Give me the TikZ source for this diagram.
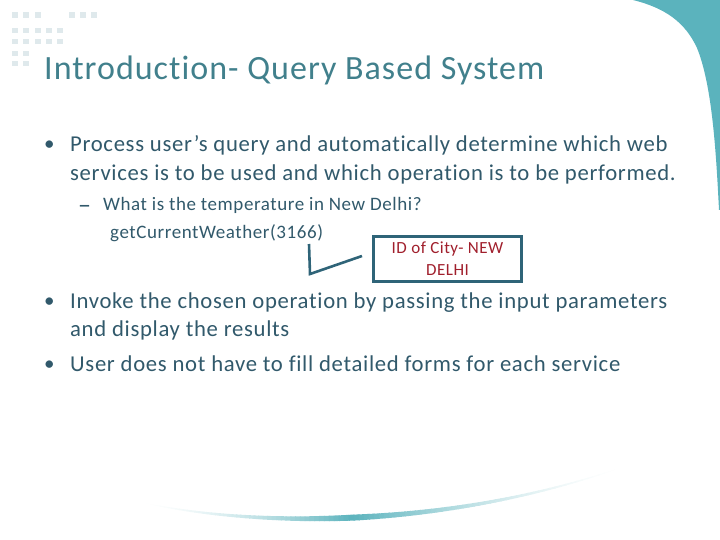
\documentclass[tikz,border=0pt]{standalone}
\usepackage{xcolor}
\usepackage{fontspec}
\setmainfont[LetterSpace=3,Ligatures={NoCommon,NoDiscretionary,NoContextual}]{Carlito}
\usepackage{tikz}
\definecolor{tealcorner}{HTML}{5BB3BD}
\definecolor{titleblue}{HTML}{41808C}
\definecolor{bodyblue}{HTML}{31596B}
\definecolor{paledot}{HTML}{DFE9EC}
\definecolor{boxblue}{HTML}{2F6478}
\definecolor{boxred}{HTML}{A01F2C}
\tikzset{
	titletext/.style={anchor=base west,inner sep=0pt,text=titleblue,font=\fontsize{34}{34}\selectfont},
	bodytext/.style={anchor=base west,inner sep=0pt,text=bodyblue,font=\fontsize{22.7}{23}\selectfont},
	bullettext/.style={anchor=base west,inner sep=0pt,text=bodyblue,font=\fontsize{21}{21}\selectfont},
	subtext/.style={anchor=base west,inner sep=0pt,text=bodyblue,font=\fontsize{19}{19}\selectfont},
	boxtext/.style={draw=boxblue,line width=3pt,text=boxred,align=center,minimum width=148pt,minimum height=45pt,inner sep=0pt,font=\fontsize{17}{22}\selectfont},
}
\begin{document}
\begin{tikzpicture}[x=1pt,y=-1pt]
	\useasboundingbox (0,0) rectangle (720,540);

	\fill[tealcorner] (633,0) .. controls (665,8) and (685,22) .. (697,48) .. controls (712,85) and (716,150) .. (719,210) -- (720,210) -- (720,0) -- cycle;

	% swoosh along the bottom
	\foreach \t in {0,0.01,...,0.99} {
		\pgfmathsetmacro{\ta}{\t}
		\pgfmathsetmacro{\tb}{\t+0.012}
		\pgfmathsetmacro{\xa}{(1-\ta)^3*140+3*(1-\ta)^2*\ta*250+3*(1-\ta)*\ta^2*440+\ta^3*620}
		\pgfmathsetmacro{\ya}{(1-\ta)^3*502+3*(1-\ta)^2*\ta*527+3*(1-\ta)*\ta^2*530+\ta^3*468}
		\pgfmathsetmacro{\xb}{(1-\tb)^3*140+3*(1-\tb)^2*\tb*250+3*(1-\tb)*\tb^2*440+\tb^3*620}
		\pgfmathsetmacro{\yb}{(1-\tb)^3*502+3*(1-\tb)^2*\tb*527+3*(1-\tb)*\tb^2*530+\tb^3*468}
		\pgfmathsetmacro{\mix}{\xa<350 ? 100*((\xa-140)/210)^1.6 : 100*((620-\xa)/270)^1.6}
		\pgfmathsetmacro{\wd}{\xa<350 ? 0.6+5.4*(\xa-140)/210 : 0.6+5.4*(620-\xa)/270}
		\draw[tealcorner!\mix!white,line width=\wd pt] (\xa,\ya) -- (\xb,\yb);
	}

	\foreach \x in {12,23,35,69,80,91} \fill[paledot] (\x,12.5) rectangle ++(5.5,5.5);
	\foreach \y in {28,39} \foreach \x in {12,23,35,46,57} \fill[paledot] (\x,\y) rectangle ++(5.5,5.5);
	\foreach \y in {51,61} \foreach \x in {12,23} \fill[paledot] (\x,\y) rectangle ++(5.5,5.5);

	\node[titletext] (title) at (44,80) {Introduction- Query Based System};

	\node[bullettext] (dotA) at (44,151) {•};
	\node[bodytext] (lineA) at (70,152) {Process user’s query and automatically determine which web};
	\node[bodytext] (lineB) at (70,181) {services is to be used and which operation is to be performed.};
	\node[subtext,font=\fontsize{26}{26}\selectfont] (dash) at (78,214) {–};
	\node[subtext] (question) at (103,211) {What is the temperature in New Delhi?};
	\node[subtext] (call) at (110,239) {getCurrentWeather(3166)};
	\node[bullettext] (dotB) at (44,307) {•};
	\node[bodytext] (lineC) at (70,308) {Invoke the chosen operation by passing the input parameters};
	\node[bodytext] (lineD) at (70,336) {and display the results};
	\node[bullettext] (dotC) at (44,370) {•};
	\node[bodytext] (lineE) at (70,371) {User does not have to fill detailed forms for each service};

	\node[boxtext] (idbox) at (447.5,258.5) {ID of City- NEW\\DELHI};

	\coordinate (calltail) at (309,244);
	\coordinate (bend) at (310,274);
	\coordinate (boxtail) at (362,256);
	\draw[boxblue,line width=2.6pt] (calltail) -- (bend) -- (boxtail);
\end{tikzpicture}
\end{document}
